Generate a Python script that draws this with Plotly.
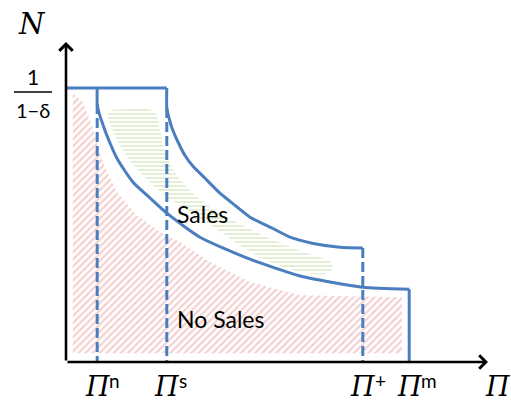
import plotly.graph_objects as go

# ---------------- data (schematic units) ----------------
PI_N, PI_S, PI_PLUS, PI_M = 0.78, 2.52, 7.42, 8.58
N_MAX = 6.85                       # level of 1/(1-δ)
X_END, Y_END = 10.55, 8.0          # axis arrow tips

upper_x = [2.52, 2.52, 2.57, 2.65, 2.80, 2.97, 3.17, 3.47, 3.85, 4.22, 4.60, 5.15, 5.60, 6.15, 6.85, 7.42]
upper_y = [6.85, 6.35, 6.12, 5.85, 5.50, 5.17, 4.90, 4.60, 4.22, 3.92, 3.62, 3.35, 3.12, 2.97, 2.87, 2.85]

lower_x = [0.78, 0.78, 0.82, 0.90, 1.02, 1.27, 1.67, 2.10, 2.52, 3.35, 4.60, 5.85, 6.60, 7.42, 8.58]
lower_y = [6.85, 6.45, 6.25, 6.00, 5.67, 5.10, 4.50, 4.10, 3.72, 3.12, 2.57, 2.15, 2.00, 1.87, 1.82]

nosales_x = [0.17, 0.42, 0.67, 0.92, 1.27, 1.77, 2.35, 2.85, 3.60, 4.60, 5.85, 8.40, 8.40, 0.17]
nosales_y = [6.72, 6.50, 5.85, 5.00, 4.25, 3.67, 3.25, 3.00, 2.50, 2.00, 1.67, 1.62, 0.22, 0.22]

sales_x = [1.05, 1.47, 1.85, 2.22, 2.35, 2.47, 2.72, 3.22, 4.05, 5.30, 6.22, 6.60, 6.67, 6.47,
           5.85, 5.10, 4.35, 3.72, 3.10, 2.47, 1.97, 1.55, 1.22, 1.05]
sales_y = [6.25, 6.32, 6.35, 6.25, 5.80, 5.30, 4.75, 4.17, 3.60, 3.00, 2.65, 2.52, 2.35, 2.20,
           2.25, 2.50, 2.92, 3.35, 3.75, 4.17, 4.62, 5.10, 5.67, 6.25]

tick_pos = [PI_N, PI_S, PI_PLUS, PI_M, X_END + 0.24]
tick_sup = ["n", "s", "+", "m", ""]

region_labels = ["Sales", "No Sales"]
region_label_x = [3.40, 3.85]
region_label_y = [3.70, 1.07]

# ---------------- styling ----------------
BLUE = "#4A7EBF"
LW = 3
SERIF = "DejaVu Serif"
SANS = "Lato, Noto Sans, sans-serif"

fig = go.Figure()

# hatched regions
fig.add_trace(go.Scatter(x=nosales_x, y=nosales_y, mode="lines", fill="toself",
                         line=dict(width=0, color="rgba(0,0,0,0)"),
                         fillcolor="rgba(0,0,0,0)",
                         fillpattern=dict(shape="/", fgcolor="#EBA2A2", bgcolor="rgba(255,255,255,0)",
                                          size=5, solidity=0.45),
                         hoverinfo="skip", showlegend=False))
fig.add_trace(go.Scatter(x=sales_x, y=sales_y, mode="lines", fill="toself",
                         line=dict(width=0, color="rgba(0,0,0,0)", shape="spline", smoothing=0.8),
                         fillcolor="rgba(0,0,0,0)",
                         fillpattern=dict(shape="-", fgcolor="#C3D99F", bgcolor="rgba(255,255,255,0)",
                                          size=4, solidity=0.45),
                         hoverinfo="skip", showlegend=False))

# dashed verticals
for xv, ytop in [(PI_N, lower_y[1]), (PI_S, upper_y[1]), (PI_PLUS, upper_y[-1])]:
    fig.add_trace(go.Scatter(x=[xv, xv], y=[ytop, 0], mode="lines",
                             line=dict(color=BLUE, width=LW, dash="10px,4px"),
                             hoverinfo="skip", showlegend=False))

# top line and Πm vertical
fig.add_trace(go.Scatter(x=[0, PI_S], y=[N_MAX, N_MAX], mode="lines",
                         line=dict(color=BLUE, width=LW), hoverinfo="skip", showlegend=False))
fig.add_trace(go.Scatter(x=[PI_M, PI_M], y=[lower_y[-1], 0], mode="lines",
                         line=dict(color=BLUE, width=LW), hoverinfo="skip", showlegend=False))

# curves
for cx, cy in [(upper_x, upper_y), (lower_x, lower_y)]:
    fig.add_trace(go.Scatter(x=cx, y=cy, mode="lines",
                             line=dict(color=BLUE, width=LW, shape="spline", smoothing=0.6),
                             hoverinfo="skip", showlegend=False))

ann = []
# axes with arrows
ann.append(dict(x=X_END, y=0, ax=0, ay=0, xref="x", yref="y", axref="x", ayref="y",
                text="", showarrow=True, arrowhead=4, arrowwidth=2.6, arrowsize=1,
                arrowcolor="black", standoff=0))
ann.append(dict(x=0, y=Y_END, ax=0, ay=0, xref="x", yref="y", axref="x", ayref="y",
                text="", showarrow=True, arrowhead=4, arrowwidth=2.6, arrowsize=1,
                arrowcolor="black", standoff=0))

# x tick labels: Π with superscripts
for xv, sup in zip(tick_pos, tick_sup):
    ann.append(dict(x=xv, y=-0.60, xref="x", yref="y", text="<i>Π</i>", showarrow=False,
                    xanchor="center", yanchor="middle", borderpad=0,
                    font=dict(family=SERIF, size=27, color="black")))
    if sup:
        ann.append(dict(x=xv + 0.28, y=-0.45, xref="x", yref="y", text=sup, showarrow=False,
                        xanchor="left", yanchor="middle", borderpad=0,
                        font=dict(family=SANS, size=19, color="black")))

# y axis labels
ann.append(dict(x=-0.85, y=8.45, xref="x", yref="y", text="<i>N</i>", showarrow=False,
                xanchor="center", yanchor="middle", font=dict(family=SERIF, size=29, color="black")))
ann.append(dict(x=-0.825, y=7.15, xref="x", yref="y", text="1", showarrow=False,
                xanchor="center", yanchor="middle", font=dict(family=SANS, size=21, color="black")))
ann.append(dict(x=-0.825, y=6.30, xref="x", yref="y", text="1−δ", showarrow=False,
                xanchor="center", yanchor="middle", font=dict(family=SANS, size=20, color="black")))

# region labels
for t, lx, ly in zip(region_labels, region_label_x, region_label_y):
    ann.append(dict(x=lx, y=ly, xref="x", yref="y", text=t, showarrow=False,
                    xanchor="center", yanchor="middle", font=dict(family=SANS, size=23, color="black")))

shapes = [dict(type="line", xref="x", yref="y", x0=-1.30, x1=-0.35, y0=6.75, y1=6.75,
               line=dict(color="black", width=1.3))]

fig.update_layout(
    width=511, height=402, autosize=False,
    margin=dict(l=0, r=0, t=0, b=0, pad=0),
    paper_bgcolor="white", plot_bgcolor="white",
    xaxis=dict(range=[-1.65, 11.125], visible=False, fixedrange=True),
    yaxis=dict(range=[-1.0, 9.05], visible=False, fixedrange=True),
    annotations=ann, shapes=shapes,
)

fig.write_html("out.html", post_script="document.body.style.margin='0';", config={"displayModeBar": False})
